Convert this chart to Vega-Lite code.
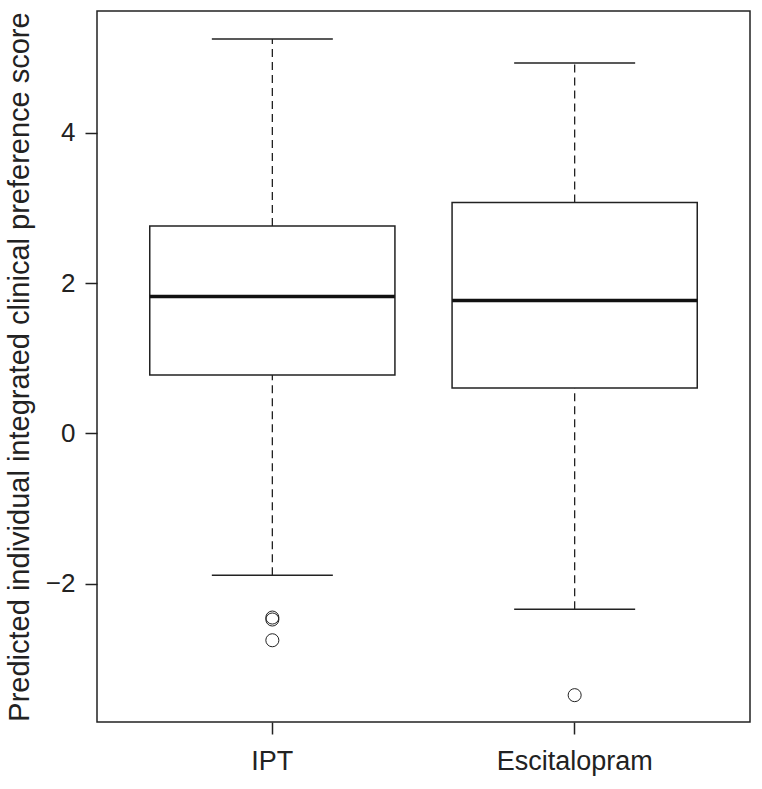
{
  "$schema": "https://vega.github.io/schema/vega-lite/v6.json",
  "autosize": {"type": "none"},
  "width": 653,
  "height": 711,
  "padding": {"left": 97, "top": 11, "right": 12, "bottom": 67},
  "background": "white",
  "config": {
    "view": {"stroke": "#222", "strokeWidth": 1.5},
    "font": "Liberation Sans"
  },
  "datasets": {
    "summary": [
      {"group": "IPT", "lower": -1.885, "q1": 0.776, "median": 1.823, "q3": 2.758, "upper": 5.245},
      {"group": "Escitalopram", "lower": -2.337, "q1": 0.603, "median": 1.769, "q3": 3.073, "upper": 4.926}
    ],
    "outliers": [
      {"group": "IPT", "value": -2.448},
      {"group": "IPT", "value": -2.474},
      {"group": "IPT", "value": -2.75},
      {"group": "Escitalopram", "value": -3.48}
    ]
  },
  "encoding": {
    "x": {
      "field": "group",
      "type": "nominal",
      "sort": ["IPT", "Escitalopram"],
      "scale": {"paddingInner": 0.189, "paddingOuter": 0.1745},
      "axis": {
        "title": null,
        "labelAngle": 0,
        "labelFontSize": 27,
        "labelColor": "#222",
        "labelPadding": 14,
        "tickSize": 12,
        "tickWidth": 1.5,
        "tickColor": "#222",
        "domain": false,
        "grid": false
      }
    }
  },
  "layer": [
    {
      "data": {"name": "summary"},
      "mark": {"type": "rule", "color": "#222", "strokeWidth": 1.3, "strokeDash": [8, 5]},
      "encoding": {
        "y": {
          "field": "q3",
          "type": "quantitative",
          "scale": {"domain": [-3.837, 5.618], "nice": false, "zero": false},
          "axis": {
            "title": "Predicted individual integrated clinical preference score",
            "titleFontSize": 29,
            "titleFontWeight": "normal",
            "titleColor": "#222",
            "titlePadding": 11,
            "values": [-2, 0, 2, 4],
            "format": "d",
            "labelFontSize": 26,
            "labelColor": "#222",
            "labelPadding": 10,
            "tickSize": 12,
            "tickWidth": 1.5,
            "tickColor": "#222",
            "domain": false,
            "grid": false
          }
        },
        "y2": {"field": "upper"}
      }
    },
    {
      "data": {"name": "summary"},
      "mark": {"type": "rule", "color": "#222", "strokeWidth": 1.3, "strokeDash": [8, 5]},
      "encoding": {
        "y": {"field": "lower", "type": "quantitative"},
        "y2": {"field": "q1"}
      }
    },
    {
      "data": {"name": "summary"},
      "mark": {"type": "bar", "fill": "white", "stroke": "#222", "strokeWidth": 1.5},
      "encoding": {
        "y": {"field": "q1", "type": "quantitative"},
        "y2": {"field": "q3"}
      }
    },
    {
      "data": {"name": "summary"},
      "mark": {"type": "tick", "color": "#111", "thickness": 3.5, "size": 245, "opacity": 1},
      "encoding": {
        "y": {"field": "median", "type": "quantitative"}
      }
    },
    {
      "data": {"name": "summary"},
      "mark": {"type": "tick", "color": "#222", "thickness": 1.5, "size": 121, "opacity": 1},
      "encoding": {
        "y": {"field": "upper", "type": "quantitative"}
      }
    },
    {
      "data": {"name": "summary"},
      "mark": {"type": "tick", "color": "#222", "thickness": 1.5, "size": 121, "opacity": 1},
      "encoding": {
        "y": {"field": "lower", "type": "quantitative"}
      }
    },
    {
      "data": {"name": "outliers"},
      "mark": {"type": "point", "shape": "circle", "filled": false, "stroke": "#222", "strokeWidth": 1, "size": 170, "opacity": 1},
      "encoding": {
        "y": {"field": "value", "type": "quantitative"}
      }
    }
  ]
}
